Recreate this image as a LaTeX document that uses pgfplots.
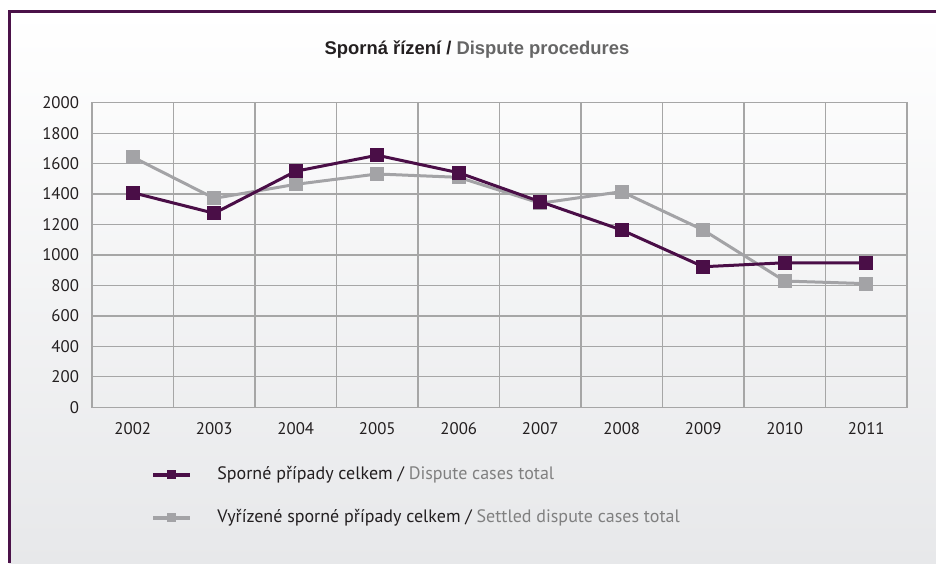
\documentclass[border=0pt]{standalone}
\usepackage{pgfplots}
\pgfplotsset{compat=1.18}
\usepackage{fontspec}
\setmainfont{PT Sans}
\newfontfamily\titlefont{Liberation Sans}
\definecolor{framec}{HTML}{4B1249}
\definecolor{sp}{HTML}{4A0E47}
\definecolor{sg}{HTML}{A3A3A6}
\definecolor{gridc}{HTML}{A6A6A6}
\definecolor{txt}{HTML}{231F20}
\definecolor{ltxt}{HTML}{808080}
\definecolor{ttxt}{HTML}{666666}
\definecolor{bgbot}{HTML}{E7E8EA}
\definecolor{bgmid}{HTML}{F8F8F8}
\begin{document}
\begin{tikzpicture}
\useasboundingbox (0pt,0pt) rectangle (468pt,281.5pt);
\fill[white] (0pt,0pt) rectangle (468pt,281.5pt);
\shade[top color=white, middle color=bgmid, bottom color=bgbot] (4.5pt,0pt) rectangle (468pt,275.5pt);
\draw[framec, line width=1.5pt] (4.5pt,0pt) -- (4.5pt,275.5pt) -- (468pt,275.5pt);
\node[font=\titlefont\bfseries\fontsize{9.2}{11}\selectfont, text=txt] at (238.5pt,256.5pt) {Sporná řízení / \textcolor{ttxt}{Dispute procedures}};
\begin{axis}[
  at={(46pt,77.85pt)}, anchor=south west, scale only axis,
  width=407.5pt, height=152.3pt,
  xmin=-0.5, xmax=9.5, ymin=0, ymax=2000,
  xtick={0,...,9},
  xticklabels={2002,2003,2004,2005,2006,2007,2008,2009,2010,2011},
  minor xtick={0.5,1.5,...,8.5}, xminorgrids,
  ytick={0,200,...,2000}, ymajorgrids,
  major tick length=0pt, minor tick length=0pt,
  axis line style={gridc, line width=0.6pt},
  grid style={gridc, line width=0.6pt},
  minor grid style={gridc, line width=0.6pt},
  tick label style={font=\fontsize{8.4}{9.5}\selectfont, text=txt},
  /pgf/number format/assume math mode=true,
  yticklabel style={/pgf/number format/1000 sep={}, anchor=east, xshift=-3pt},
  xticklabel style={anchor=north, yshift=-4pt},
  reverse legend,
  legend cell align=left,
  legend style={at={(0.0724,-0.193)}, anchor=north west, draw=none, fill=none,
    inner sep=0pt, row sep=13.5pt, column sep=12.5pt,
    font=\fontsize{9}{10}\selectfont, text=txt, nodes={inner sep=0pt}},
  legend image code/.code={\draw[#1, line width=2pt] (0pt,0pt) -- (18.5pt,0pt);
    \draw[#1, line width=0pt, mark size=2pt] plot coordinates {(9.25pt,0pt)};},
]
\addplot[sg, line width=1.5pt, mark=square*, mark size=2.75pt, mark options={draw=none, fill=sg}]
  coordinates {(0,1643) (1,1372) (2,1464) (3,1532) (4,1510) (5,1340) (6,1416) (7,1164) (8,829) (9,812)};
\addlegendentry{Vyřízené sporné případy celkem / \textcolor{ltxt}{Settled dispute cases total}}
\addplot[sp, line width=1.5pt, mark=square*, mark size=2.75pt, mark options={draw=none, fill=sp}]
  coordinates {(0,1409) (1,1274) (2,1550) (3,1655) (4,1540) (5,1350) (6,1164) (7,923) (8,949) (9,949)};
\addlegendentry{Sporné případy celkem / \textcolor{ltxt}{Dispute cases total}}
\end{axis}
\end{tikzpicture}
\end{document}
